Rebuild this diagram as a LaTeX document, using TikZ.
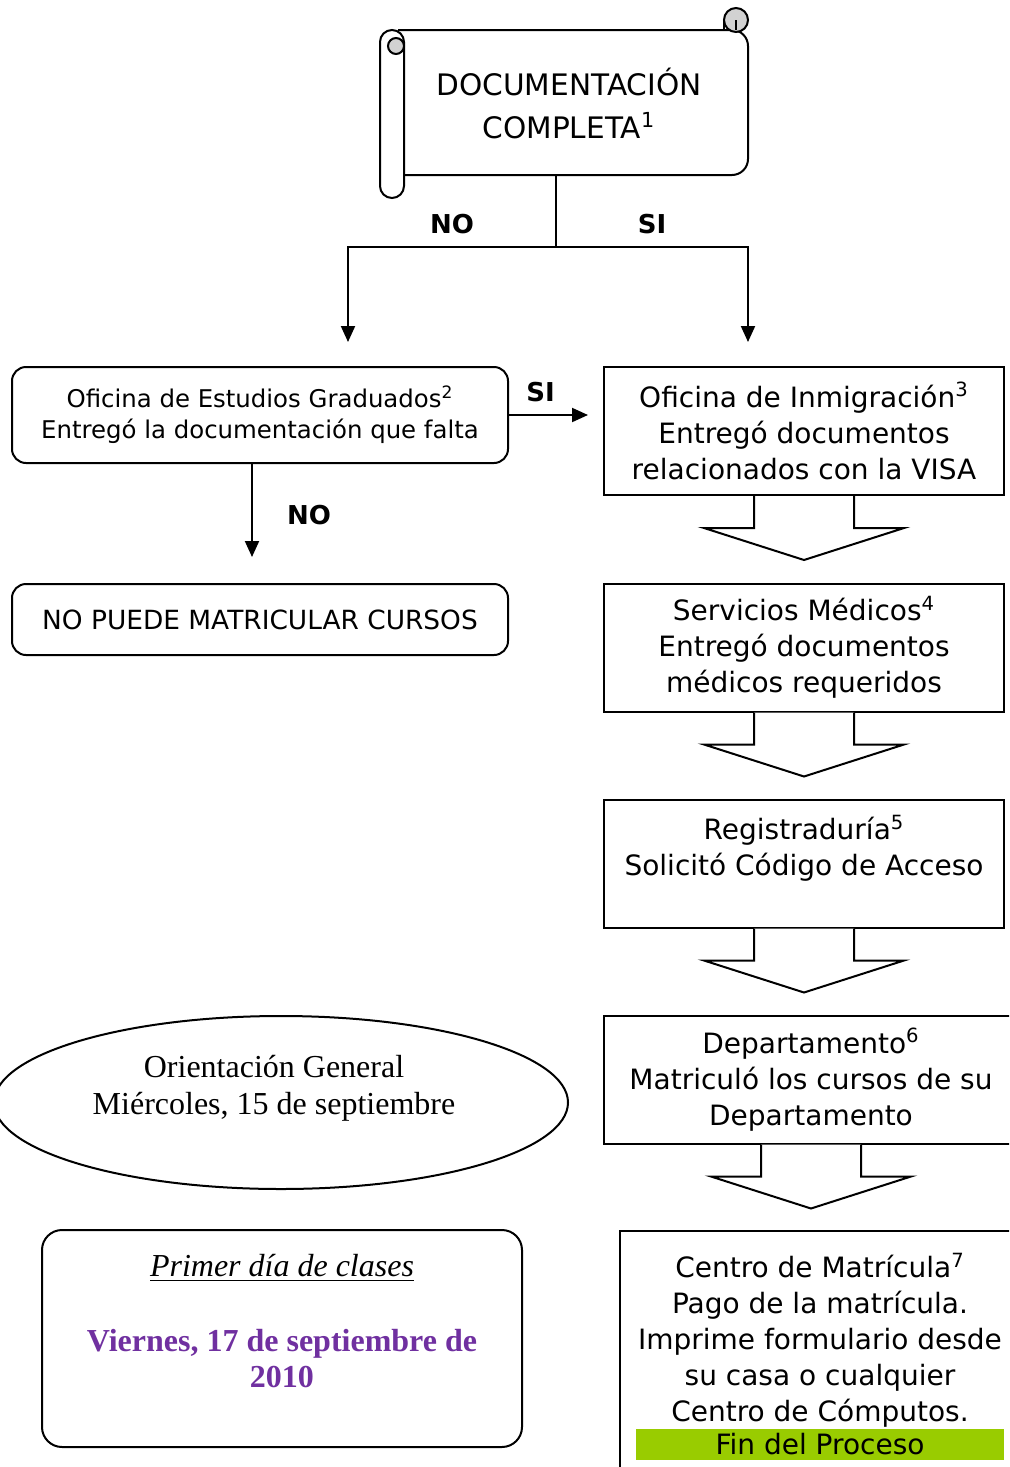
\documentclass[tikz,border=0pt]{standalone}
\usepackage{fontspec}
\setmainfont{Liberation Serif}
\newfontfamily\flowfont{DejaVu Sans}
\usetikzlibrary{arrows.meta,calc,positioning,shapes.geometric}
\definecolor{finverde}{RGB}{153,204,0}
\definecolor{morado}{RGB}{112,48,160}
\tikzset{%
  tipA/.tip={Triangle[width=7pt,length=8pt]},
  flowline/.style={line width=1pt},
  roundbox/.style={draw,line width=1pt,rounded corners=7pt,minimum width=248pt,align=center,inner sep=0pt},
  squarebox/.style={draw,line width=1pt,minimum width=200pt,minimum height=64pt,align=center,inner sep=0pt,
    font=\flowfont\fontsize{14}{18}\selectfont},
  choice/.style={font=\flowfont\bfseries\fontsize{13}{15}\selectfont,inner sep=1pt},
  bigarrow/.style={draw,line width=1pt,fill=white},
}
% block arrow hanging under a box
\newcommand{\bigdown}[1]{%
  \draw[bigarrow] ($(#1.south)+(-50,0)$) -- ++(0,32) -- ++(-50,0) -- ++(100,32)
    -- ++(100,-32) -- ++(-50,0) -- ++(0,-32);}

\begin{document}
\begin{tikzpicture}[x=0.5pt,y=-0.5pt]
\clip (0,0) rectangle (1009,1467);
\fill[white] (0,0) rectangle (1009,1467);
% scroll
\draw[flowline,rounded corners=8pt] (398,30) -- (748,30) -- (748,175) -- (404,175);
\draw[flowline,fill=white,rounded corners=6pt] (380,30) rectangle (404,198);
\draw[flowline,fill=gray!35] (396,46) circle (8);
\draw[flowline,fill=gray!35] (736,20) circle (12);
\draw[flowline] (736,20) -- (736,30);
\draw[flowline] (724,20) -- (724,30);
\node[align=center,font=\flowfont\fontsize{14.8}{21.5}\selectfont] (doc) at (569,103)
  {DOCUMENTACIÓN\\COMPLETA\textsuperscript{1}};
\coordinate (docbase) at (556,175);
\coordinate (split) at (556,247);
\coordinate (noend) at (348,342);
\coordinate (siend) at (748,342);
\draw[flowline] (docbase) -- (split);
\draw[flowline,-tipA] (split) -| node[choice,pos=0.25,above=5pt] (nolabel) {NO} (noend);
\draw[flowline,-tipA] (split) -| node[choice,pos=0.25,above=5pt] (silabel) {SI} (siend);
% left column
\node[roundbox,minimum height=48pt,font=\flowfont\fontsize{12.2}{15.5}\selectfont] (ofgrad) at (260,415)
  {Oficina de Estudios Graduados\textsuperscript{2}\\Entregó la documentación que falta};
\node[roundbox,minimum height=35.5pt,font=\flowfont\fontsize{13.2}{16}\selectfont] (nopuede) at (260,619.5)
  {NO PUEDE MATRICULAR CURSOS};
\coordinate (siarrow) at (588,415);
\coordinate (noarrow) at (252,557);
\draw[flowline,-tipA] (ofgrad.east) -- node[choice,pos=0.4,above=5pt] (si2) {SI} (siarrow);
\draw[flowline,-tipA] (ofgrad.south -| noarrow) -- node[choice,right=16pt,pos=0.55] (no2) {NO} (noarrow);
% right column
\node[squarebox] (inmig) at (804,431)
  {Oficina de Inmigración\textsuperscript{3}\\Entregó documentos\\relacionados con la VISA};
\node[squarebox] (medicos) at (804,647.5)
  {Servicios Médicos\textsuperscript{4}\\Entregó documentos\\médicos requeridos};
\node[squarebox] (registro) at (804,863.5)
  {Registraduría\textsuperscript{5}\\Solicitó Código de Acceso\\\mbox{}};
\node[squarebox,minimum width=207pt] (depto) at (811,1079.5)
  {Departamento\textsuperscript{6}\\Matriculó los cursos de su\\Departamento};
\node[draw,line width=1pt,minimum width=200pt,minimum height=130pt,inner sep=0pt] (matricula) at (820,1361) {};
\node[align=center,font=\flowfont\fontsize{14}{17.9}\selectfont] (matriculatxt) at (820,1340)
  {Centro de Matrícula\textsuperscript{7}\\Pago de la matrícula.\\Imprime formulario desde\\su casa o cualquier\\Centro de Cómputos.};
\node[fill=finverde,minimum width=184pt,minimum height=15.5pt,inner sep=0pt,
  font=\flowfont\fontsize{14}{15}\selectfont] (fin) at (820,1444.5) {Fin del Proceso};
\bigdown{inmig}
\bigdown{medicos}
\bigdown{registro}
\bigdown{depto}
% orientacion y primer dia
\node[draw,line width=1pt,ellipse,minimum width=287pt,minimum height=86.5pt,inner sep=0pt] (orient) at (281,1102.5) {};
\node[align=center,font=\fontsize{16}{18.5}\selectfont] (orienttxt) at (274,1088)
  {Orientación General\\Miércoles, 15 de septiembre};
\node[draw,line width=1pt,rounded corners=10pt,minimum width=240pt,minimum height=108.5pt,inner sep=0pt] (primer) at (282,1338.5) {};
\node[font=\fontsize{16}{18}\selectfont] (primerdia) at (282,1268) {\underline{\textit{Primer día de clases}}};
\node[align=center,text=morado,font=\bfseries\fontsize{16}{18}\selectfont] (viernes) at (282,1359)
  {Viernes, 17 de septiembre de\\2010};
\end{tikzpicture}
\end{document}
